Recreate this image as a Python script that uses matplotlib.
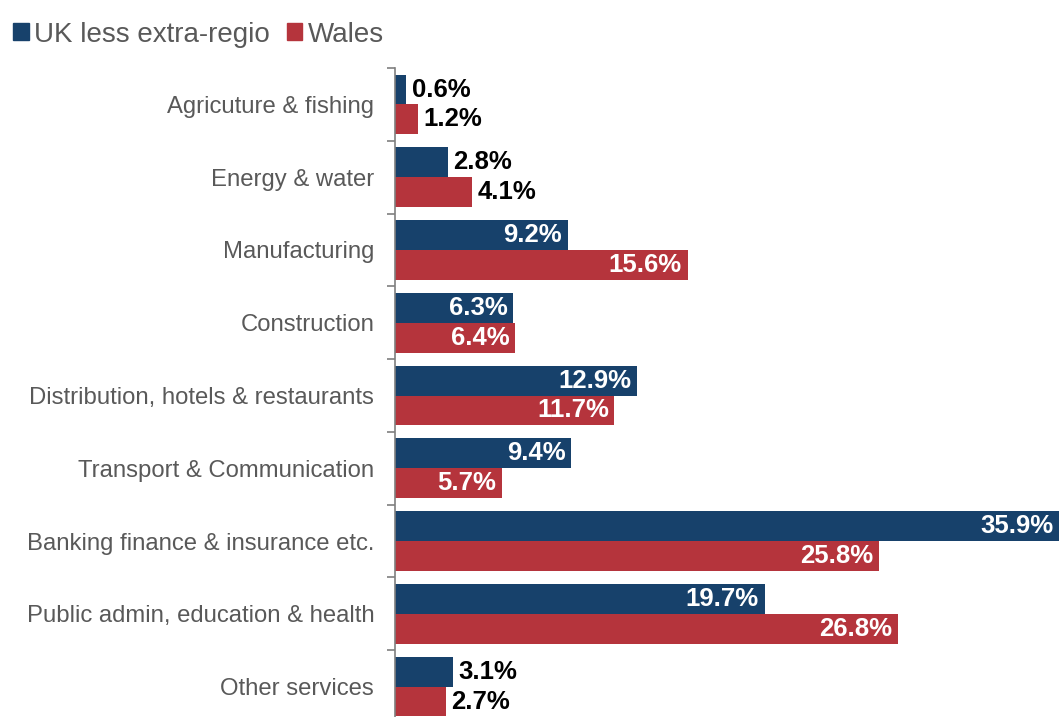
import matplotlib.pyplot as plt
from matplotlib.patches import Patch

plt.rcParams["font.family"] = ["Liberation Sans", "DejaVu Sans"]

categories = [
    "Agricuture & fishing",
    "Energy & water",
    "Manufacturing",
    "Construction",
    "Distribution, hotels & restaurants",
    "Transport & Communication",
    "Banking finance & insurance etc.",
    "Public admin, education & health",
    "Other services",
]
uk_values = [0.6, 2.8, 9.2, 6.3, 12.9, 9.4, 35.9, 19.7, 3.1]
wales_values = [1.2, 4.1, 15.6, 6.4, 11.7, 5.7, 25.8, 26.8, 2.7]
series_names = ["UK less extra-regio", "Wales"]

uk_color = "#17416b"
wales_color = "#b5343c"
text_gray = "#595959"

fig = plt.figure(figsize=(10.59, 7.17), dpi=100)
ax = fig.add_axes([0.373, -0.0084, 0.627, 0.9135])

x_max = 35.4
bar_h = 0.41
y = list(range(len(categories)))
uk_y = [i - bar_h / 2 for i in y]
wales_y = [i + bar_h / 2 for i in y]

ax.barh(uk_y, uk_values, height=bar_h, color=uk_color)
ax.barh(wales_y, wales_values, height=bar_h, color=wales_color)


def label_bars(ys, values):
    for yy, v in zip(ys, values):
        text = "{:.1f}%".format(v)
        if v >= 5:
            # keep the label inside the visible part of the bar
            ax.text(min(v, x_max) - 0.3, yy, text, ha="right", va="center",
                    color="white", fontsize=18.5, fontweight="bold")
        else:
            ax.text(v + 0.3, yy, text, ha="left", va="center",
                    color="black", fontsize=18.5, fontweight="bold")


label_bars(uk_y, uk_values)
label_bars(wales_y, wales_values)

ax.set_xlim(0, x_max)
ax.set_ylim(len(categories) - 0.5, -0.5)

# category names in the middle, tick marks on the boundaries
ax.set_yticks(y)
ax.set_yticklabels(categories, fontsize=17.2, color=text_gray)
ax.tick_params(axis="y", which="major", length=0, pad=15)
ax.set_yticks([i - 0.5 for i in range(len(categories) + 1)], minor=True)
ax.tick_params(axis="y", which="minor", length=6, width=1.2, color="#7f7f7f")

ax.set_xticks([])
for side in ["top", "right", "bottom"]:
    ax.spines[side].set_visible(False)
ax.spines["left"].set_color("#7f7f7f")
ax.spines["left"].set_linewidth(1.2)

handles = [Patch(color=uk_color), Patch(color=wales_color)]
fig.legend(handles, series_names, loc="upper left",
           bbox_to_anchor=(-0.003, 0.993), ncol=2, frameon=False,
           fontsize=20, labelcolor=text_gray, handlelength=0.55,
           handleheight=0.55, handletextpad=0.2, columnspacing=0.6,
           borderaxespad=0.2)

fig.savefig("out.png", dpi=100)
